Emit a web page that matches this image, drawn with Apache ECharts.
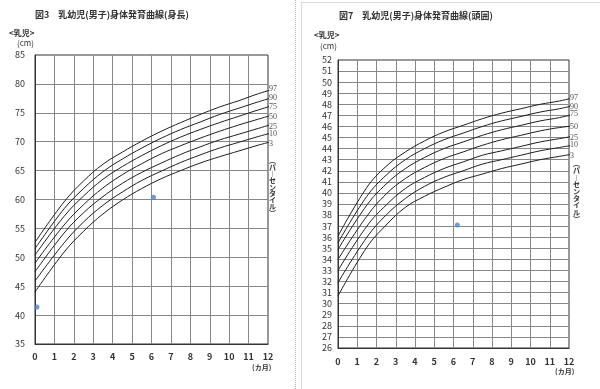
<!DOCTYPE html>
<html><head><meta charset="utf-8">
<script src="https://cdn.jsdelivr.net/npm/echarts@6/dist/echarts.min.js"></script>
<style>html,body{margin:0;padding:0;background:#fff}#c{width:600px;height:389px}</style>
</head><body><div id="c"></div>
<script>
// ---- data ----
const months = [0, 1.5, 2.5, 3.5, 4.5, 5.5, 6.5, 7.5, 8.5, 9.5, 10.5, 11.5, 12.5];
const monthTicks = ['0','1','2','3','4','5','6','7','8','9','10','11','12'];
const pctNames = ['97','90','75','50','25','10','3'];

// 身長 (cm)
const len97 = [52.6, 59.6, 63.2, 66.1, 68.2, 70.1, 71.8, 73.3, 74.7, 76.0, 77.1, 78.3, 79.3];
const len90 = [51.5, 58.4, 61.9, 64.8, 67.0, 68.9, 70.6, 72.1, 73.4, 74.7, 75.8, 76.9, 77.9];
const len75 = [50.4, 57.1, 60.6, 63.5, 65.7, 67.6, 69.3, 70.8, 72.1, 73.3, 74.4, 75.5, 76.5];
const len50 = [49.0, 55.6, 59.1, 62.0, 64.3, 66.2, 67.9, 69.3, 70.6, 71.8, 72.9, 73.9, 74.9];
const len25 = [47.5, 54.2, 57.7, 60.5, 62.8, 64.7, 66.3, 67.8, 69.1, 70.3, 71.3, 72.3, 73.3];
const len10 = [45.9, 52.5, 56.1, 59.0, 61.3, 63.3, 64.9, 66.4, 67.7, 68.9, 69.9, 70.9, 71.8];
const len03 = [44.0, 50.9, 54.5, 57.5, 59.9, 61.9, 63.6, 65.0, 66.3, 67.4, 68.4, 69.4, 70.3];
const lenLabelAt = [79.1, 77.6, 76.0, 74.3, 72.5, 71.3, 69.6];
const lenPoints = [[0.1, 41.4], [6.1, 60.4]];

// 頭囲 (cm)
const head97 = [36.1, 40.5, 42.4, 43.7, 44.7, 45.5, 46.1, 46.7, 47.2, 47.6, 48.0, 48.3, 48.7];
const head90 = [35.5, 39.7, 41.6, 43.0, 44.0, 44.8, 45.4, 46.0, 46.5, 46.9, 47.3, 47.6, 48.0];
const head75 = [34.9, 38.9, 40.8, 42.2, 43.2, 44.0, 44.6, 45.2, 45.7, 46.1, 46.5, 46.8, 47.2];
const head50 = [34.0, 37.9, 39.9, 41.3, 42.3, 43.1, 43.7, 44.3, 44.8, 45.2, 45.6, 45.9, 46.1];
const head25 = [33.0, 37.0, 38.9, 40.4, 41.4, 42.2, 42.8, 43.4, 43.8, 44.2, 44.6, 44.9, 45.2];
const head10 = [31.9, 36.0, 38.0, 39.5, 40.6, 41.4, 42.0, 42.6, 43.0, 43.4, 43.8, 44.1, 44.4];
const head03 = [30.7, 35.1, 37.1, 38.7, 39.7, 40.5, 41.2, 41.7, 42.2, 42.6, 43.0, 43.3, 43.6];
const headLabelAt = [48.55, 47.8, 47.1, 46.0, 45.0, 44.3, 43.3];
const headPoints = [[6.2, 37.1]];

// ---- chart ----
const chart = echarts.init(document.getElementById('c'), null, {renderer: 'canvas'});
const FONT = '"Noto Sans CJK JP", "Noto Sans", sans-serif';
const gridLine = {color: '#878787', width: 1};

function xAxisDef(gi, margin) {
  return {
    gridIndex: gi, type: 'value', min: 0, max: 12, interval: 1,
    axisLine: {show: true, onZero: false, lineStyle: {color: '#333', width: 1}},
    axisTick: {show: false},
    axisLabel: {margin: margin, fontSize: 9, color: '#333', fontFamily: FONT, fontWeight: 'bold',
      formatter: v => monthTicks[v] !== undefined ? monthTicks[v] : ''},
    splitLine: {show: true, showMinLine: false, showMaxLine: false, lineStyle: gridLine}
  };
}
function yAxisDef(gi, min, max, interval, margin) {
  return {
    gridIndex: gi, type: 'value', min: min, max: max, interval: interval,
    axisLine: {show: true, onZero: false, lineStyle: {color: '#333', width: 1}},
    axisTick: {show: false},
    axisLabel: {margin: margin, fontSize: 9, color: '#333', fontFamily: FONT},
    splitLine: {show: true, showMinLine: false, showMaxLine: false, lineStyle: gridLine}
  };
}
function curve(gi, vals) {
  return {
    type: 'line', xAxisIndex: gi, yAxisIndex: gi, showSymbol: false, symbol: 'none',
    smooth: 0.4, clip: true, silent: true,
    lineStyle: {color: '#1e1e1e', width: 1},
    data: months.map((m, i) => [m, vals[i]])
  };
}
function pctLabelSeries(gi, ys) {
  return {
    type: 'scatter', xAxisIndex: gi, yAxisIndex: gi, symbolSize: 0, silent: true,
    label: {show: true, position: 'right', distance: 1, fontSize: 8,
      fontFamily: '"Liberation Serif", serif', color: '#222', formatter: p => p.name},
    data: pctNames.map((n, i) => ({name: n, value: [12, ys[i]]}))
  };
}
function pointSeries(gi, pts) {
  return {
    type: 'scatter', xAxisIndex: gi, yAxisIndex: gi, symbolSize: 5, silent: true,
    itemStyle: {color: '#4a82d6'}, data: pts
  };
}

const lenSets = [len97, len90, len75, len50, len25, len10, len03];
const headSets = [head97, head90, head75, head50, head25, head10, head03];

const vText = '︵パ︱センタイル︶'.split('').join('\n');

const option = {
  animation: false,
  backgroundColor: '#fff',
  grid: [
    {left: 35, top: 55, width: 233, height: 289, show: true, borderColor: '#333', borderWidth: 1, backgroundColor: 'transparent'},
    {left: 338, top: 60, width: 231, height: 288, show: true, borderColor: '#333', borderWidth: 1, backgroundColor: 'transparent'}
  ],
  xAxis: [xAxisDef(0, 8), xAxisDef(1, 9)],
  yAxis: [yAxisDef(0, 35, 85, 5, 10), yAxisDef(1, 26, 52, 1, 6)],
  series: [
    ...lenSets.map(s => curve(0, s)),
    ...headSets.map(s => curve(1, s)),
    pctLabelSeries(0, lenLabelAt),
    pctLabelSeries(1, headLabelAt),
    pointSeries(0, lenPoints),
    pointSeries(1, headPoints)
  ],
  graphic: [
    {type: 'line', shape: {x1: 295.5, y1: 0, x2: 295.5, y2: 389}, style: {stroke: '#b5b5b5', lineWidth: 1, lineDash: [1, 1]}},
    {type: 'line', shape: {x1: 301.5, y1: 2.5, x2: 301.5, y2: 389}, style: {stroke: '#b5b5b5', lineWidth: 1, lineDash: [1, 1]}},
    {type: 'line', shape: {x1: 301.5, y1: 2.5, x2: 600, y2: 2.5}, style: {stroke: '#b5b5b5', lineWidth: 1, lineDash: [1, 1]}},
    {type: 'text', left: 35, top: 10, style: {text: '図3　乳幼児(男子)身体発育曲線(身長)', font: 'bold 9px ' + FONT, fill: '#333'}},
    {type: 'text', left: 339, top: 11, style: {text: '図7　乳幼児(男子)身体発育曲線(頭囲)', font: 'bold 9px ' + FONT, fill: '#333'}},
    {type: 'text', left: 9, top: 29, style: {text: '<乳児>', font: 'bold 8px ' + FONT, fill: '#333'}},
    {type: 'text', left: 17, top: 39, style: {text: '(cm)', font: '8px ' + FONT, fill: '#333'}},
    {type: 'text', left: 314, top: 31, style: {text: '<乳児>', font: 'bold 8px ' + FONT, fill: '#333'}},
    {type: 'text', left: 320, top: 42, style: {text: '(cm)', font: '8px ' + FONT, fill: '#333'}},
    {type: 'text', left: 252, top: 364, style: {text: '(カ月)', font: 'bold 7px ' + FONT, fill: '#333'}},
    {type: 'text', left: 555, top: 368, style: {text: '(カ月)', font: 'bold 7px ' + FONT, fill: '#333'}},
    {type: 'text', left: 269, top: 157, style: {text: vText, font: 'bold 7px ' + FONT, lineHeight: 6.6, fill: '#333', align: 'center'}},
    {type: 'text', left: 573, top: 160, style: {text: vText, font: 'bold 7px ' + FONT, lineHeight: 7, fill: '#333', align: 'center'}}
  ]
};
chart.setOption(option);
</script>
</body></html>
